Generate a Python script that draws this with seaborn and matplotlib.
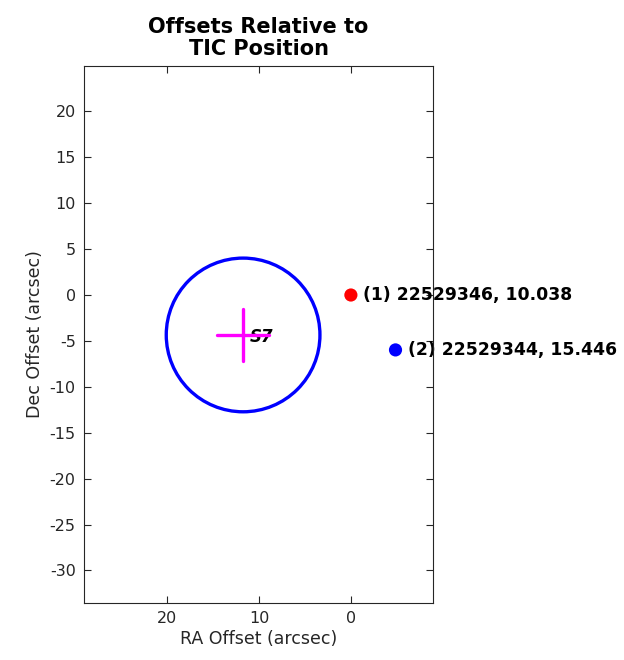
import pandas as pd
import seaborn as sns
import matplotlib.pyplot as plt
from matplotlib.patches import Circle

# Stars near the TIC target: offsets in arcsec
star_ids = ['(1) 22529346, 10.038', '(2) 22529344, 15.446']
star_ra = [0.0, -4.86]
star_dec = [0.0, -5.98]
star_colors = ['red', 'blue']

# Sector centroid (S7) and its aperture circle
sector_label = 'S7'
centroid_ra = 11.74
centroid_dec = -4.35
centroid_err = 2.85
circle_radius = 8.37

x_ticks = [20, 10, 0]
y_ticks = [-30, -25, -20, -15, -10, -5, 0, 5, 10, 15, 20]

sns.set_theme(style='white')
plt.rcParams['font.family'] = ['DejaVu Sans']
plt.rcParams['axes.unicode_minus'] = False

fig = plt.figure(figsize=(6.24, 6.6), dpi=100)
ax = fig.add_axes([0.1346, 0.0864, 0.5594, 0.8136])

# aperture circle
ax.add_patch(Circle((centroid_ra, centroid_dec), circle_radius, fill=False,
                    edgecolor='blue', linewidth=2.4, zorder=2))

# centroid label under the cross
ax.text(centroid_ra - 0.75, centroid_dec - 0.2, sector_label, fontsize=12,
        fontstyle='italic', fontweight='bold', color='black',
        va='center', ha='left', zorder=2)

# centroid cross
cross_h = pd.DataFrame({'x': [centroid_ra + centroid_err, centroid_ra - centroid_err],
                        'y': [centroid_dec, centroid_dec]})
cross_v = pd.DataFrame({'x': [centroid_ra, centroid_ra],
                        'y': [centroid_dec + centroid_err, centroid_dec - centroid_err]})
sns.lineplot(data=cross_h, x='x', y='y', color='magenta', linewidth=2.4,
             sort=False, estimator=None, ax=ax, zorder=3)
sns.lineplot(data=cross_v, x='x', y='y', color='magenta', linewidth=2.4,
             sort=False, estimator=None, ax=ax, zorder=3)

# stars
stars = pd.DataFrame({'ra': star_ra, 'dec': star_dec, 'name': star_ids})
sns.scatterplot(data=stars, x='ra', y='dec', hue='name', palette=star_colors,
                s=90, edgecolor='none', legend=False, ax=ax, zorder=4)
for ra, dec, name in zip(star_ra, star_dec, star_ids):
    ax.text(ra - 1.35, dec, name, fontsize=12.4, fontweight='bold', color='black',
            va='center', ha='left', clip_on=False, zorder=1)

ax.set_aspect('equal')
ax.set_xlim(29.07, -8.95)
ax.set_ylim(-33.5, 24.9)
ax.set_xticks(x_ticks)
ax.set_yticks(y_ticks)

ax.tick_params(direction='in', length=5, width=0.8, color='#262626',
               top=True, right=True, bottom=True, left=True,
               labelsize=11.5, labelcolor='#262626', pad=6)
for sp in ax.spines.values():
    sp.set_color('#262626')
    sp.set_linewidth(0.8)
    sp.set_zorder(5)

ax.set_xlabel('RA Offset (arcsec)', fontsize=12.5, color='#262626', labelpad=3)
ax.set_ylabel('Dec Offset (arcsec)', fontsize=12.5, color='#262626', labelpad=4)
ax.set_title('Offsets Relative to\nTIC Position', fontsize=15, fontweight='bold',
             color='black', pad=8, linespacing=1.15)

fig.savefig('out.png', dpi=100)
